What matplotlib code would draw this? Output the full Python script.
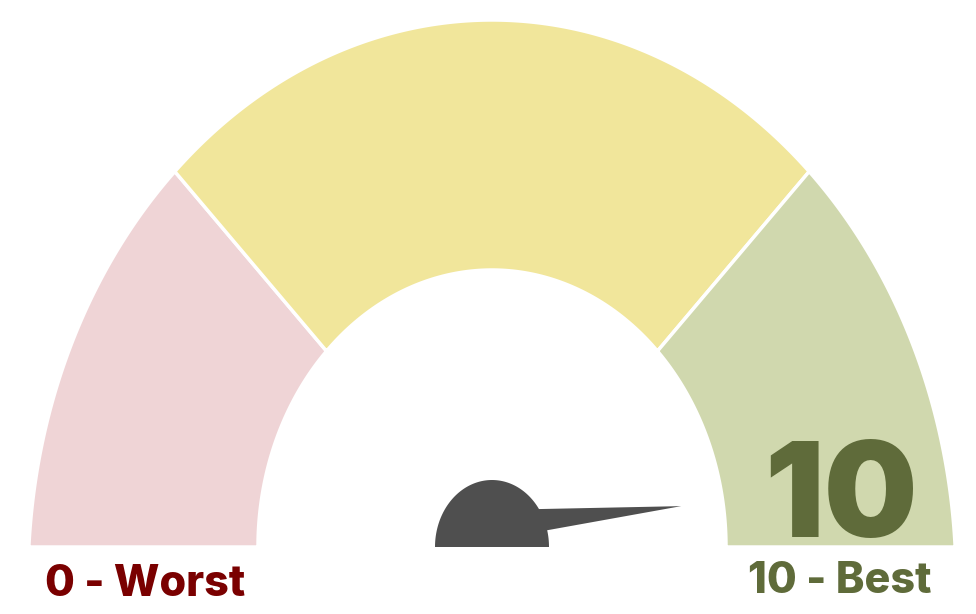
import numpy as np
import matplotlib.pyplot as plt
from matplotlib.patches import Polygon

# gauge bands on a 0-10 scale
band_edges = [0, 2.5, 7.5, 10]
band_colors = ["#efd4d6", "#f1e69b", "#d0d8ae"]
value = 10
min_label = "0 - Worst"
max_label = "10 - Best"
scale_max = 10

W, H = 976, 614
cx, cy = 492, 547
rx_in, ry_in = 234, 277
# outer edge is a slightly fuller ellipse whose centre sits below the baseline
ox_a, ox_b, ox_dy = 464, 561, 34


def to_angle(v):
    return np.pi * (1 - v / scale_max)


def arc_points(theta):
    # inner point on the inner ellipse, outer point along the same ray
    ix = rx_in * np.cos(theta)
    iy = ry_in * np.sin(theta)
    phi = np.arctan2(iy, ix)
    c, s = np.cos(phi), np.sin(phi)
    qa = (c / ox_a) ** 2 + (s / ox_b) ** 2
    qb = 2 * s * ox_dy / ox_b ** 2
    qc = (ox_dy / ox_b) ** 2 - 1
    t = (-qb + np.sqrt(qb ** 2 - 4 * qa * qc)) / (2 * qa)
    inner = np.column_stack([cx + ix, cy - iy])
    outer = np.column_stack([cx + t * c, cy - t * s])
    return inner, outer


def ring(a0, a1, n=200):
    inner, outer = arc_points(np.linspace(a0, a1, n))
    return np.vstack([outer, inner[::-1]])


fig = plt.figure(figsize=(W / 100, H / 100), dpi=100)
ax = fig.add_axes([0, 0, 1, 1])
ax.set_xlim(0, W)
ax.set_ylim(H, 0)
ax.axis("off")

for lo, hi, col in zip(band_edges[:-1], band_edges[1:], band_colors):
    ax.add_patch(Polygon(ring(to_angle(lo), to_angle(hi)), closed=True,
                         facecolor=col, edgecolor="white", linewidth=2.5))

# hub
t = np.linspace(0, np.pi, 100)
hub = np.column_stack([cx + 57 * np.cos(t), cy - 67 * np.sin(t)])
ax.add_patch(Polygon(hub, closed=True, facecolor="#4f4f4f", edgecolor="none"))

# needle (kept slightly inside the end of the scale)
a = np.clip(to_angle(value), np.radians(5), np.radians(175))
px, py = cx, cy - 22
L = 190
tip = (px + L * np.cos(a), py - L * np.sin(a) * 1.14)
nx, ny = np.sin(a), np.cos(a)
half = 15
needle = [(px + half * nx, py + half * ny), tip, (px - half * nx, py - half * ny)]
ax.add_patch(Polygon(needle, closed=True, facecolor="#4f4f4f", edgecolor="none"))

ax.text(841, 537, f"{value}", ha="center", va="baseline", fontsize=95,
        fontweight=900, family="Inter", color="#5f6b3a")
ax.text(45, 596, min_label, ha="left", va="baseline", fontsize=31,
        fontweight=800, family="Inter", color="#7a0000")
ax.text(932, 593, max_label, ha="right", va="baseline", fontsize=31,
        fontweight=800, family="Inter", color="#5f6b3a")

fig.savefig("out.png", dpi=100)
